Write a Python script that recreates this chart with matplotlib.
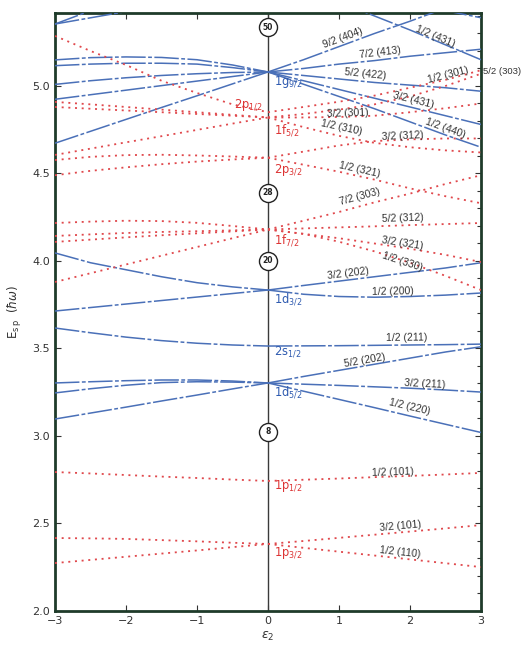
import numpy as np
import matplotlib
matplotlib.use("Agg")
import matplotlib.pyplot as plt
from matplotlib.ticker import MultipleLocator, FixedLocator

# ---------------- data ----------------
EPS_R = [0, 0.5, 1, 1.5, 2, 2.5, 3]
EPS_L = [-3, -2.5, -2, -1.5, -1, -0.5, 0]

# prolate side (eps > 0), positive parity (blue)
g92_404 = [5.08, 5.15, 5.225, 5.30, 5.37, 5.445, 5.52]
g92_413 = [5.08, 5.10, 5.125, 5.145, 5.17, 5.19, 5.21]
g92_422 = [5.08, 5.06, 5.04, 5.02, 5.005, 4.99, 4.97]
g92_431 = [5.08, 5.03, 4.98, 4.93, 4.88, 4.83, 4.78]
g92_440 = [5.08, 5.01, 4.94, 4.87, 4.795, 4.72, 4.65]
EPS_431 = [1, 1.5, 2, 2.5, 3]
up_431 = [5.48, 5.40, 5.32, 5.235, 5.15]
EPS_TR = [2, 2.5, 3]
up_tr = [5.47, 5.43, 5.39]
d32_202 = [3.834, 3.86, 3.885, 3.91, 3.935, 3.96, 3.99]
d32_200 = [3.834, 3.81, 3.797, 3.793, 3.797, 3.805, 3.817]
s12_211 = [3.514, 3.515, 3.516, 3.518, 3.52, 3.522, 3.525]
d52_202 = [3.303, 3.34, 3.375, 3.41, 3.445, 3.48, 3.51]
d52_211 = [3.303, 3.296, 3.289, 3.281, 3.273, 3.263, 3.251]
d52_220 = [3.303, 3.256, 3.209, 3.162, 3.114, 3.067, 3.02]

# prolate side, negative parity (red)
p12_301 = [4.85, 4.88, 4.91, 4.945, 4.99, 5.035, 5.09]
f52_303 = [4.82, 4.84, 4.865, 4.895, 4.94, 5.00, 5.07]
f52_301 = [4.82, 4.82, 4.823, 4.83, 4.85, 4.873, 4.90]
f52_310 = [4.82, 4.765, 4.715, 4.675, 4.65, 4.632, 4.62]
p32_312 = [4.59, 4.625, 4.66, 4.685, 4.695, 4.70, 4.70]
p32_321 = [4.59, 4.55, 4.51, 4.465, 4.415, 4.37, 4.33]
f72_303 = [4.18, 4.23, 4.28, 4.335, 4.385, 4.44, 4.49]
f72_312 = [4.18, 4.186, 4.192, 4.198, 4.205, 4.211, 4.217]
f72_321 = [4.18, 4.155, 4.13, 4.10, 4.07, 4.035, 3.994]
f72_330 = [4.18, 4.155, 4.11, 4.055, 3.99, 3.915, 3.834]
p12_101 = [2.743, 2.75, 2.757, 2.765, 2.772, 2.78, 2.789]
p32_101 = [2.383, 2.40, 2.418, 2.436, 2.454, 2.472, 2.491]
p32_110 = [2.383, 2.361, 2.339, 2.317, 2.295, 2.273, 2.251]

# oblate side (eps < 0), blue
g_a = [5.149, 5.162, 5.166, 5.163, 5.15, 5.12, 5.08]
g_b = [5.116, 5.125, 5.13, 5.13, 5.125, 5.105, 5.08]
g_c = [5.009, 5.03, 5.047, 5.06, 5.07, 5.077, 5.08]
g_d = [4.924, 4.95, 4.976, 5.002, 5.028, 5.054, 5.08]
g_e = [4.673, 4.741, 4.809, 4.877, 4.944, 5.012, 5.08]
EPS_TL1 = [-3, -2.5]
tl_1 = [5.354, 5.43]
EPS_TL2 = [-3, -2]
tl_2 = [5.354, 5.425]
d3_a = [4.046, 3.99, 3.95, 3.91, 3.876, 3.852, 3.834]
d3_b = [3.714, 3.734, 3.754, 3.774, 3.794, 3.814, 3.834]
s_a = [3.617, 3.59, 3.565, 3.545, 3.53, 3.52, 3.514]
d5_a = [3.303, 3.31, 3.316, 3.32, 3.32, 3.314, 3.303]
d5_b = [3.246, 3.27, 3.29, 3.305, 3.31, 3.308, 3.303]
d5_c = [3.097, 3.131, 3.165, 3.20, 3.234, 3.269, 3.303]

# oblate side, red
p1_l = [5.286, 5.20, 5.12, 5.03, 4.96, 4.895, 4.85]
f5_la = [4.909, 4.895, 4.88, 4.865, 4.85, 4.835, 4.82]
f5_lb = [4.88, 4.87, 4.86, 4.85, 4.84, 4.83, 4.82]
f5_lc = [4.606, 4.642, 4.678, 4.713, 4.749, 4.785, 4.82]
p3_la = [4.577, 4.595, 4.605, 4.607, 4.603, 4.597, 4.59]
p3_lb = [4.49, 4.515, 4.535, 4.553, 4.568, 4.58, 4.59]
f7_la = [4.217, 4.225, 4.23, 4.228, 4.218, 4.20, 4.18]
f7_lb = [4.143, 4.152, 4.16, 4.166, 4.17, 4.175, 4.18]
f7_lc = [4.109, 4.122, 4.135, 4.147, 4.158, 4.169, 4.18]
f7_ld = [3.88, 3.93, 3.98, 4.03, 4.08, 4.13, 4.18]
p1_la = [2.794, 2.786, 2.777, 2.768, 2.76, 2.751, 2.743]
p3_l1 = [2.417, 2.415, 2.412, 2.405, 2.398, 2.39, 2.383]
p3_l2 = [2.274, 2.292, 2.31, 2.328, 2.346, 2.365, 2.383]

# magic numbers on the spherical axis
MAGIC = ["50", "28", "20", "8"]
MAGIC_E = [5.337, 4.389, 4.0, 3.023]

# spherical level labels
SPH_TXT = [r"1g$_{9/2}$", r"2p$_{1/2}$", r"1f$_{5/2}$", r"2p$_{3/2}$",
           r"1f$_{7/2}$", r"1d$_{3/2}$", r"2s$_{1/2}$", r"1d$_{5/2}$",
           r"1p$_{1/2}$", r"1p$_{3/2}$"]
SPH_E = [5.02, 4.89, 4.75, 4.52, 4.12, 3.78, 3.48, 3.25, 2.71, 2.33]
SPH_PAR = ["+", "-", "-", "-", "-", "+", "+", "+", "-", "-"]

XTICKS = [-3, -2, -1, 0, 1, 2, 3]
XTICKLABELS = ["\u22123", "\u22122", "\u22121", "0", "1", "2", "3"]
YTICKS = [2.0, 2.5, 3.0, 3.5, 4.0, 4.5, 5.0]
YTICKLABELS = ["2.0", "2.5", "3.0", "3.5", "4.0", "4.5", "5.0"]

# ---------------- styles ----------------
BLUE = "#4a70b8"
RED = "#e0484c"
BLUE_T = "#2f5bb0"
RED_T = "#dd3434"
FRAME = "#1f3b2a"
blue_ls = (0, (16, 1.6, 2.5, 1.6))
red_ls = (0, (1.1, 2.6))

fig = plt.figure(figsize=(5.22, 6.45), dpi=100)
ax = fig.add_axes([55 / 522, 34 / 645, 426 / 522, 598 / 645])
ax.set_xlim(-3, 3)
ax.set_ylim(2.0, 5.417)

blue_curves = [
    (EPS_R, g92_404), (EPS_R, g92_413), (EPS_R, g92_422), (EPS_R, g92_431),
    (EPS_R, g92_440), (EPS_431, up_431), (EPS_TR, up_tr),
    (EPS_R, d32_202), (EPS_R, d32_200), (EPS_R, s12_211), (EPS_R, d52_202),
    (EPS_R, d52_211), (EPS_R, d52_220),
    (EPS_L, g_a), (EPS_L, g_b), (EPS_L, g_c), (EPS_L, g_d), (EPS_L, g_e),
    (EPS_TL1, tl_1), (EPS_TL2, tl_2),
    (EPS_L, d3_a), (EPS_L, d3_b), (EPS_L, s_a),
    (EPS_L, d5_a), (EPS_L, d5_b), (EPS_L, d5_c),
]
red_curves = [
    (EPS_R, p12_301), (EPS_R, f52_303), (EPS_R, f52_301), (EPS_R, f52_310),
    (EPS_R, p32_312), (EPS_R, p32_321), (EPS_R, f72_303), (EPS_R, f72_312),
    (EPS_R, f72_321), (EPS_R, f72_330), (EPS_R, p12_101), (EPS_R, p32_101),
    (EPS_R, p32_110),
    (EPS_L, p1_l), (EPS_L, f5_la), (EPS_L, f5_lb), (EPS_L, f5_lc),
    (EPS_L, p3_la), (EPS_L, p3_lb), (EPS_L, f7_la), (EPS_L, f7_lb),
    (EPS_L, f7_lc), (EPS_L, f7_ld), (EPS_L, p1_la), (EPS_L, p3_l1),
    (EPS_L, p3_l2),
]

# spherical axis
ax.axvline(0, color="#3a3a3a", lw=1.0, zorder=2)

for xs, ys in blue_curves:
    ax.plot(xs, ys, color=BLUE, lw=1.1, ls=blue_ls, zorder=3,
            solid_capstyle="butt")
for xs, ys in red_curves:
    ax.plot(xs, ys, color=RED, lw=1.3, ls=red_ls, zorder=3)

# magic-number circles
for txt, e in zip(MAGIC, MAGIC_E):
    ax.plot([0], [e], marker="o", ms=13, mfc="white", mec="#222222",
            mew=1.0, zorder=6, clip_on=False)
    ax.text(0, e, txt, ha="center", va="center", fontsize=5.5,
            fontweight="bold", color="#222222", zorder=7,
            family="DejaVu Sans")

# spherical labels
for txt, e, par in zip(SPH_TXT, SPH_E, SPH_PAR):
    col = BLUE_T if par == "+" else RED_T
    if txt.startswith("2p$_{1/2"):
        ax.text(-0.08, e, txt, ha="right", va="center", fontsize=8.3,
                color=col, zorder=5)
    else:
        ax.text(0.08, e, txt, ha="left", va="center", fontsize=8.3,
                color=col, zorder=5)

# Nilsson labels: (text, x, y, curve-x, curve-y)
labels = [
    ("9/2 (404)", 1.056, 5.274, EPS_R, g92_404),
    ("7/2 (413)", 1.577, 5.189, EPS_R, g92_413),
    ("1/2 (431)", 2.352, 5.280, EPS_431, up_431),
    ("5/2 (422)", 1.366, 5.069, EPS_R, g92_422),
    ("1/2 (301)", 2.535, 5.063, EPS_R, p12_301),
    ("3/2 (431)", 2.042, 4.920, EPS_R, g92_431),
    ("3/2 (301)", 1.127, 4.846, EPS_R, f52_301),
    ("1/2 (440)", 2.493, 4.760, EPS_R, g92_440),
    ("1/2 (310)", 1.042, 4.760, EPS_R, f52_310),
    ("3/2 (312)", 1.900, 4.714, EPS_R, p32_312),
    ("1/2 (321)", 1.296, 4.520, EPS_R, p32_321),
    ("7/2 (303)", 1.296, 4.366, EPS_R, f72_303),
    ("5/2 (312)", 1.900, 4.246, EPS_R, f72_312),
    ("3/2 (321)", 1.900, 4.103, EPS_R, f72_321),
    ("1/2 (330)", 1.887, 3.994, EPS_R, f72_330),
    ("3/2 (202)", 1.127, 3.931, EPS_R, d32_202),
    ("1/2 (200)", 1.760, 3.823, EPS_R, d32_200),
    ("1/2 (211)", 1.958, 3.560, EPS_R, s12_211),
    ("5/2 (202)", 1.366, 3.434, EPS_R, d52_202),
    ("3/2 (211)", 2.211, 3.297, EPS_R, d52_211),
    ("1/2 (220)", 2.000, 3.166, EPS_R, d52_220),
    ("1/2 (101)", 1.760, 2.794, EPS_R, p12_101),
    ("3/2 (101)", 1.859, 2.486, EPS_R, p32_101),
    ("1/2 (110)", 1.859, 2.337, EPS_R, p32_110),
]
fig.canvas.draw()
for txt, x, y, cx, cy in labels:
    cx = np.asarray(cx, float)
    cy = np.asarray(cy, float)
    h = 0.15
    xa, xb = max(x - h, cx[0]), min(x + h, cx[-1])
    ya, yb = np.interp([xa, xb], cx, cy)
    p = ax.transData.transform([[xa, ya], [xb, yb]])
    ang = np.degrees(np.arctan2(p[1, 1] - p[0, 1], p[1, 0] - p[0, 0]))
    ax.text(x, y, txt, ha="center", va="center", rotation=ang,
            rotation_mode="anchor", fontsize=7.5, color="#333333",
            family="Liberation Sans", zorder=5)

ax.text(3.025, 5.08, "5/2 (303)", ha="left", va="center", fontsize=6.8,
        color="#333333", family="Liberation Sans", clip_on=False)

# axes cosmetics
for sp in ax.spines.values():
    sp.set_color(FRAME)
    sp.set_linewidth(2.0)
ax.xaxis.set_major_locator(FixedLocator(XTICKS))
ax.set_xticklabels(XTICKLABELS, fontsize=8, color="#333333")
ax.yaxis.set_major_locator(FixedLocator(YTICKS))
ax.set_yticklabels(YTICKLABELS, fontsize=8, color="#333333")
ax.yaxis.set_minor_locator(MultipleLocator(0.1))
ax.tick_params(which="major", direction="in", length=4, width=0.8,
               top=True, right=True, colors="#333333")
ax.tick_params(which="minor", direction="in", length=3, width=0.8,
               left=False, right=True, colors="#333333")
ax.set_xlabel(r"$\epsilon_2$", fontsize=9, color="#333333", labelpad=3)
ax.set_ylabel(r"E$_{\rm s\,p}$  ($\hbar\omega$)", fontsize=8.5,
              color="#333333", labelpad=6)

fig.savefig("out.png", dpi=100)
